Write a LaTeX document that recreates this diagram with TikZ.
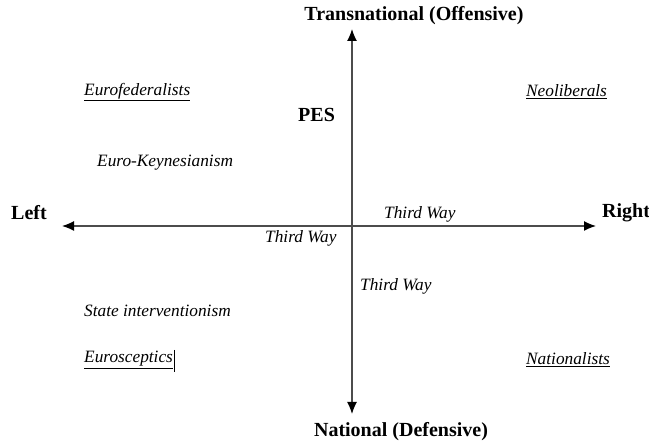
\documentclass[tikz,border=0pt]{standalone}
\usepackage{fontspec}
\setmainfont{Liberation Serif}
\usetikzlibrary{arrows.meta}
\begin{document}
\begin{tikzpicture}[x=1pt,y=-1pt,
  lab/.style={font=\fontsize{17.3}{20}\selectfont\itshape, inner sep=0pt, anchor=west},
  hd/.style={font=\fontsize{20}{23}\selectfont\bfseries, inner sep=0pt},
  axis/.style={draw=black!70, line width=1.3pt, {Latex[length=12pt,width=10pt,color=black]}-{Latex[length=12pt,width=10pt,color=black]}}]
\useasboundingbox (0,0) rectangle (649,443);
\node[hd] (top) at (414,16) {Transnational (Offensive)};
\node[hd] (bot) at (401,432) {National (Defensive)};
\node[hd, anchor=west] (left) at (11,213) {Left};
\node[hd, anchor=west] (right) at (602,213) {Right};
\node[hd, anchor=west] (pes) at (298,115) {PES};
\coordinate (l) at (62,226);
\coordinate (r) at (596,226);
\coordinate (t) at (352,29);
\coordinate (b) at (352,414);
\draw[axis] (l) -- (r);
\draw[axis] (b) -- (t);
\node[lab] (euf) at (84,92) {\underline{Eurofederalists}};
\node[lab] (neo) at (526,92) {\underline{Neoliberals}};
\node[lab] (ek) at (97,163) {Euro-Keynesianism};
\node[lab] (tw1) at (384,214) {Third Way};
\node[lab] (tw2) at (265,238) {Third Way};
\node[lab] (tw3) at (360,286) {Third Way};
\node[lab] (si) at (84,311) {State interventionism};
\node[lab] (eus) at (84,360) {\underline{Eurosceptics}};
\node[lab] (nat) at (526,360) {\underline{Nationalists}};
\coordinate (cur1) at (eus.east |- 0,350);
\coordinate (cur2) at (eus.east |- 0,372);
\draw[line width=1.4pt] ([xshift=1.5pt]cur1) -- ([xshift=1.5pt]cur2);
\end{tikzpicture}
\end{document}
